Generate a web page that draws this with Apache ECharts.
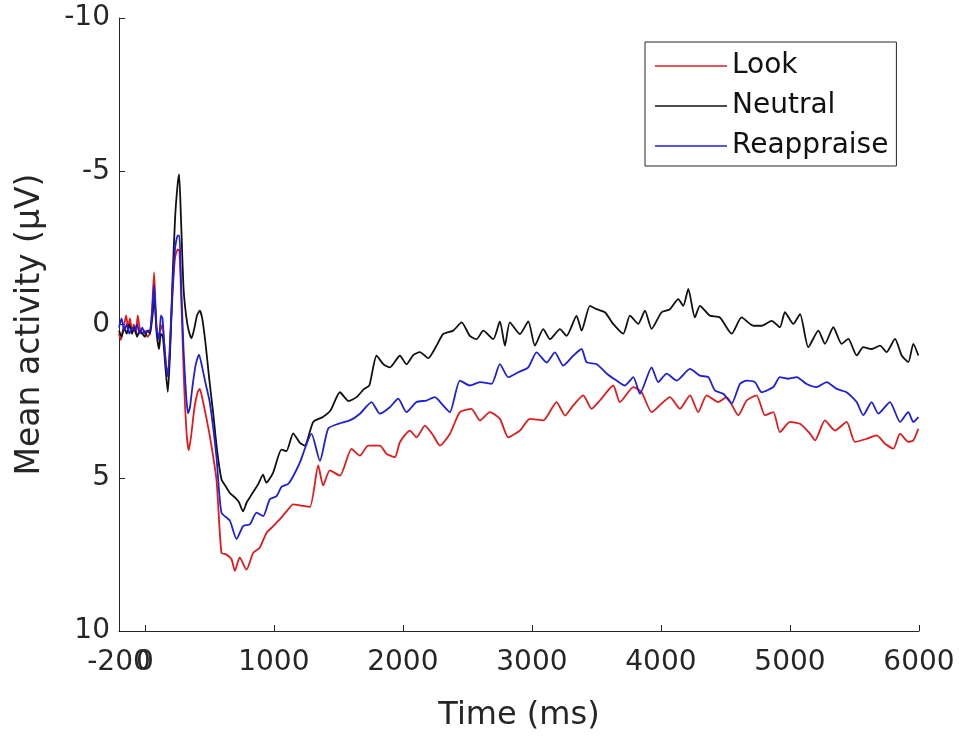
<!DOCTYPE html>
<html>
<head>
<meta charset="utf-8">
<script src="https://cdn.jsdelivr.net/npm/echarts@6/dist/echarts.min.js"></script>
<style>
html,body{margin:0;padding:0;background:#fff;}
#chart{width:959px;height:742px;}
</style>
</head>
<body>
<div id="chart"></div>
<script>
// ---- data (time in ms, mean activity in µV) ----
const seriesNames = ['Look', 'Neutral', 'Reappraise'];

const lookData = [
[-200,0.3],[-185,0.5],[-170,0.2],[-160,0.0],[-145,-0.3],[-130,0.1],[-115,-0.2],[-100,0.2],[-85,0.0],[-70,0.3],
[-55,-0.3],[-40,0.1],[-20,0.3],[0,0.2],[20,0.4],[40,0.3],[55,-0.4],[72,-1.7],[85,-0.4],[100,0.4],
[120,0.2],[137,0.0],[150,0.6],[165,1.3],[180,1.6],[195,0.8],[215,-1.0],[235,-2.2],[255,-2.45],[268,-2.4],
[285,-0.5],[305,2.0],[325,3.6],[341,4.1],[360,3.6],[385,2.7],[410,2.2],[426,2.1],[445,2.4],[470,2.9],
[504,3.64],[555,5.05],[594,7.45],[630,7.5],[672,7.66],[698,8.04],[736,7.6],[788,8.0],[840,7.45],[891,7.28],
[943,6.8],[995,6.58],[1047,6.35],[1098,6.1],[1150,5.87],[1202,5.9],[1279,5.95],[1344,4.6],[1382,5.25],[1434,4.76],
[1512,4.93],[1602,4.06],[1667,4.28],[1731,3.95],[1822,3.95],[1873,4.22],[1938,4.33],[1977,3.84],[2054,3.46],[2106,3.68],
[2171,3.3],[2235,3.62],[2287,3.95],[2364,3.57],[2442,2.86],[2532,2.75],[2597,3.13],[2674,2.86],[2752,3.08],[2817,3.68],
[2907,3.46],[2984,3.08],[3088,3.13],[3191,2.53],[3256,2.97],[3320,2.64],[3398,2.31],[3463,2.75],[3527,2.48],[3630,1.99],
[3682,2.53],[3786,2.04],[3850,2.21],[3928,2.86],[4005,2.58],[4070,2.37],[4147,2.75],[4225,2.31],[4289,2.86],[4354,2.31],
[4444,2.53],[4509,2.37],[4599,2.96],[4664,2.48],[4741,2.31],[4806,2.96],[4871,2.86],[4922,3.51],[5000,3.18],[5078,3.24],
[5155,3.56],[5194,3.78],[5271,3.13],[5349,3.46],[5439,3.18],[5504,3.83],[5594,3.73],[5672,3.62],[5737,3.89],[5801,4.05],
[5853,3.56],[5917,3.83],[5956,3.78],[5995,3.4]
];

const neutralData = [
[-200,0.2],[-180,0.4],[-160,0.1],[-140,0.3],[-120,0.0],[-100,0.3],[-80,0.1],[-60,0.4],[-40,0.2],[-20,0.3],
[0,0.4],[20,0.2],[40,0.3],[60,-0.3],[75,-0.9],[90,0.2],[110,0.8],[125,0.3],[140,0.4],[160,1.4],
[178,2.2],[195,1.0],[215,-1.5],[235,-3.5],[255,-4.6],[266,-4.9],[280,-3.5],[300,-1.2],[320,-0.3],[340,0.2],
[362,0.45],[385,0.1],[405,-0.3],[426,-0.45],[445,-0.2],[470,0.6],[500,1.8],[530,2.9],[560,4.1],[594,5.05],
[630,5.3],[660,5.5],[700,5.65],[730,5.8],[761,6.1],[790,5.8],[820,5.6],[850,5.4],[880,5.2],[916,4.9],
[942,5.16],[994,4.84],[1059,4.08],[1098,4.13],[1150,3.55],[1202,3.86],[1240,3.95],[1305,3.18],[1380,3.02],[1440,2.8],
[1512,2.21],[1580,2.5],[1641,2.37],[1700,2.1],[1740,1.99],[1796,1.02],[1850,1.3],[1899,1.4],[1977,1.02],[2028,1.3],
[2080,1.0],[2132,0.9],[2196,1.1],[2261,0.69],[2312,0.31],[2390,0.2],[2455,-0.07],[2519,0.37],[2571,0.48],[2623,0.2],
[2700,0.48],[2752,-0.1],[2791,0.69],[2829,-0.07],[2907,0.31],[2972,-0.1],[3023,0.69],[3088,0.15],[3140,0.48],[3217,0.15],
[3269,0.37],[3346,-0.28],[3385,0.2],[3450,-0.61],[3501,-0.5],[3566,-0.4],[3630,-0.02],[3708,0.3],[3760,-0.29],[3824,-0.02],
[3876,-0.45],[3928,0.14],[4005,-0.4],[4070,-0.5],[4134,-0.83],[4173,-0.61],[4212,-1.16],[4263,-0.23],[4302,-0.61],[4380,-0.29],
[4457,-0.23],[4548,0.3],[4625,-0.23],[4716,0.04],[4780,0.04],[4858,-0.12],[4922,0.09],[4961,-0.4],[5026,-0.02],[5078,-0.34],
[5142,0.74],[5220,0.2],[5271,0.63],[5336,0.09],[5400,0.63],[5452,0.47],[5517,1.01],[5568,0.74],[5633,0.8],[5698,0.69],
[5749,0.9],[5814,0.47],[5866,1.01],[5917,1.23],[5956,0.63],[5995,1.01]
];

const reappraiseData = [
[-200,0.1],[-180,-0.2],[-160,0.2],[-140,0.0],[-120,0.3],[-100,0.1],[-80,0.2],[-60,0.0],[-40,0.3],[-20,0.1],
[0,0.3],[20,0.2],[40,0.2],[60,-0.6],[72,-1.3],[90,0.1],[110,0.5],[125,-0.3],[137,-0.2],[150,0.6],
[165,1.4],[180,1.7],[195,0.6],[215,-1.2],[235,-2.5],[255,-2.9],[268,-2.9],[280,-1.5],[300,0.8],[320,2.3],
[335,2.9],[350,2.7],[370,2.0],[395,1.3],[420,0.98],[445,1.4],[470,1.9],[504,2.55],[555,4.3],[594,6.14],
[659,6.4],[711,7.0],[762,6.58],[814,6.52],[866,6.14],[917,6.25],[969,5.7],[1021,5.6],[1059,5.3],[1111,5.2],
[1150,4.95],[1202,4.5],[1292,3.57],[1357,4.45],[1421,3.4],[1499,3.24],[1589,3.13],[1667,2.91],[1757,2.53],[1822,2.91],
[1899,2.7],[1964,2.42],[2028,2.86],[2106,2.53],[2183,2.48],[2248,2.37],[2312,2.64],[2364,2.86],[2442,1.83],[2519,1.99],
[2597,1.88],[2687,1.94],[2752,1.29],[2817,1.72],[2894,1.56],[2972,1.4],[3036,0.91],[3114,1.24],[3178,0.91],[3243,1.34],
[3320,1.02],[3385,0.8],[3424,1.23],[3501,1.29],[3579,1.6],[3656,1.83],[3721,1.99],[3786,1.72],[3837,2.26],[3928,1.4],
[3979,1.88],[4044,1.6],[4121,1.83],[4225,1.45],[4302,1.67],[4367,1.72],[4418,2.15],[4483,2.26],[4548,2.58],[4612,1.94],
[4664,1.83],[4728,1.88],[4780,2.21],[4871,2.04],[4922,1.72],[4987,1.77],[5052,1.72],[5129,1.94],[5207,2.04],[5284,1.88],
[5362,2.1],[5439,2.21],[5517,2.53],[5568,2.96],[5633,2.53],[5685,2.91],[5775,2.53],[5853,3.18],[5917,2.86],[5956,3.18],
[5995,3.02]
];

const xTickValues = [0, 1000, 2000, 3000, 4000, 5000, 6000];
const xStartLabel = [-200];
const yTickValues = [-10, -5, 0, 5, 10];

const seriesColors = ['#e31a1c', '#111111', '#1f1fd8'];
const axisColor = '#262626';
const fontFamily = '"DejaVu Sans", "Liberation Sans", Arial, sans-serif';

const chart = echarts.init(document.getElementById('chart'), null, {renderer: 'canvas'});

const datasets = [lookData, neutralData, reappraiseData];
const plainNumber = v => String(v);

const option = {
  animation: false,
  backgroundColor: '#ffffff',
  textStyle: {fontFamily: fontFamily, color: axisColor},
  grid: {left: 119, right: 40, top: 18, bottom: 111, containLabel: false},
  legend: {
    data: seriesNames,
    orient: 'vertical',
    left: 645,
    top: 42,
    icon: 'rect',
    itemWidth: 72,
    itemHeight: 1.6,
    itemGap: 12,
    padding: [10, 8, 6, 10],
    borderColor: axisColor,
    borderWidth: 1,
    borderRadius: 0,
    backgroundColor: '#ffffff',
    textStyle: {fontSize: 28, color: '#111', fontFamily: fontFamily, padding: [0, 0, 0, 0]}
  },
  xAxis: [{
    type: 'value',
    position: 'bottom',
    min: -200,
    max: 6000,
    name: 'Time (ms)',
    nameLocation: 'middle',
    nameGap: 69,
    nameTextStyle: {fontSize: 32, color: axisColor, fontFamily: fontFamily},
    axisLine: {show: true, onZero: false, lineStyle: {color: axisColor, width: 1}},
    axisTick: {show: true, inside: true, length: 6, customValues: xTickValues, lineStyle: {color: axisColor}},
    axisLabel: {show: true, customValues: xTickValues, formatter: plainNumber, fontSize: 28, color: axisColor, margin: 18,
                showMinLabel: true, showMaxLabel: true, hideOverlap: false, fontFamily: fontFamily},
    splitLine: {show: false}
  }, {
    type: 'value',
    position: 'bottom',
    offset: 0,
    min: -200,
    max: 6000,
    axisLine: {show: false, onZero: false},
    axisTick: {show: false},
    axisLabel: {show: true, customValues: xStartLabel, formatter: plainNumber, fontSize: 28, color: axisColor, margin: 18,
                showMinLabel: true, showMaxLabel: false, fontFamily: fontFamily},
    splitLine: {show: false}
  }],
  yAxis: {
    type: 'value',
    min: -10,
    max: 10,
    interval: 5,
    inverse: true,
    name: 'Mean activity (\u03bcV)',
    nameLocation: 'middle',
    nameGap: 72,
    nameTextStyle: {fontSize: 33, color: axisColor, fontFamily: fontFamily},
    axisLine: {show: true, onZero: false, lineStyle: {color: axisColor, width: 1}},
    axisTick: {show: true, inside: true, length: 6, customValues: yTickValues, lineStyle: {color: axisColor}},
    axisLabel: {show: true, customValues: yTickValues, formatter: plainNumber, fontSize: 28, color: axisColor, margin: 9,
                padding: [8, 0, 0, 0],
                showMinLabel: true, showMaxLabel: true, fontFamily: fontFamily},
    splitLine: {show: false}
  },
  series: seriesNames.map((name, i) => ({
    name: name,
    type: 'line',
    xAxisIndex: 0,
    data: datasets[i],
    symbol: 'none',
    smooth: 0.2,
    lineStyle: {color: seriesColors[i], width: 1.8},
    itemStyle: {color: seriesColors[i]},
    z: 2 + i
  }))
};

chart.setOption(option);
</script>
</body>
</html>
